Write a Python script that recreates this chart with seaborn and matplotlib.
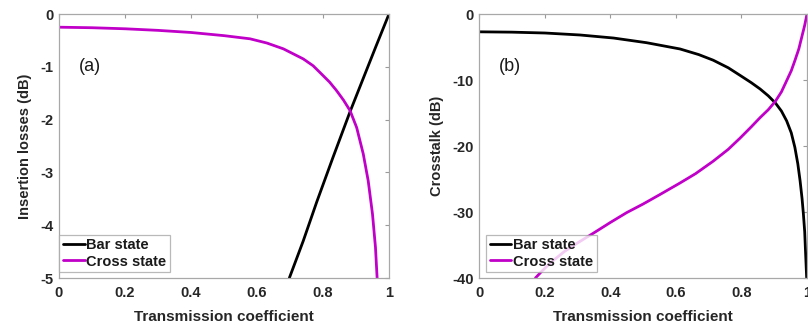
import matplotlib
matplotlib.use("Agg")
import matplotlib.pyplot as plt
import numpy as np
import pandas as pd
import seaborn as sns

# values
il_bar_t = [0.698, 0.74, 0.781, 0.83, 0.882, 0.92, 0.96, 1.0]
il_bar_db = [-5.0, -4.3, -3.56, -2.72, -1.85, -1.25, -0.62, 0.0]

il_cross_t = [0.0, 0.1, 0.2, 0.3, 0.4, 0.5, 0.579, 0.63, 0.68, 0.74,
              0.77, 0.796, 0.82, 0.841, 0.862, 0.882, 0.902, 0.922,
              0.937, 0.95, 0.959, 0.964]
il_cross_db = [-0.25, -0.26, -0.28, -0.31, -0.35, -0.41, -0.47, -0.55,
               -0.66, -0.85, -0.98, -1.14, -1.29, -1.45, -1.63, -1.83,
               -2.15, -2.65, -3.16, -3.79, -4.42, -5.0]

xt_bar_t = [0.0, 0.1, 0.201, 0.308, 0.41, 0.511, 0.613, 0.67, 0.714,
            0.76, 0.796, 0.83, 0.857, 0.882, 0.904, 0.922, 0.938, 0.952,
            0.963, 0.972, 0.979, 0.985, 0.989, 0.993, 0.995, 0.999]
xt_bar_db = [-2.7, -2.75, -2.88, -3.18, -3.64, -4.35, -5.3, -6.15, -7.0,
             -8.15, -9.3, -10.4, -11.36, -12.4, -13.5, -14.7, -16.2,
             -18.0, -20.2, -22.7, -25.3, -28.0, -30.3, -33.0, -35.4, -40.0]

xt_cross_t = [0.172, 0.191, 0.22, 0.26, 0.3, 0.349, 0.4, 0.45, 0.5, 0.55,
              0.613, 0.66, 0.714, 0.76, 0.796, 0.83, 0.857, 0.882, 0.904,
              0.922, 0.938, 0.952, 0.963, 0.975, 0.984, 0.993, 1.0]
xt_cross_db = [-40.0, -39.0, -37.6, -36.0, -34.7, -33.2, -31.6, -30.1,
               -28.8, -27.4, -25.6, -24.2, -22.3, -20.5, -18.8, -17.1,
               -15.7, -14.5, -13.2, -11.8, -10.1, -8.6, -7.07, -5.3,
               -3.5, -1.7, 0.0]

states = ["Bar state", "Cross state"]
colors = {"Bar state": "black", "Cross state": "#c000c8"}
x_ticks = [0, 0.2, 0.4, 0.6, 0.8, 1]
x_tick_labels = ["0", "0.2", "0.4", "0.6", "0.8", "1"]


def make_frame(t_bar, db_bar, t_cross, db_cross):
    bar = pd.DataFrame({"t": t_bar, "db": db_bar, "state": states[0]})
    cross = pd.DataFrame({"t": t_cross, "db": db_cross, "state": states[1]})
    return pd.concat([bar, cross], ignore_index=True)


def style_axes(ax, ylabel, yticks, ylim, tag, legend_x):
    ax.set_xlim(0, 1)
    ax.set_ylim(*ylim)
    ax.set_xticks(x_ticks)
    ax.set_xticklabels(x_tick_labels)
    ax.set_yticks(yticks)
    ax.set_yticklabels([str(v) for v in yticks])
    ax.set_xlabel("Transmission coefficient", fontsize=11,
                  fontweight="bold", color="#262626", labelpad=7)
    ax.set_ylabel(ylabel, fontsize=10.5, fontweight="bold",
                  color="#262626", labelpad=6)
    ax.tick_params(direction="in", top=True, right=True, length=3,
                   width=0.8, color="#9a9a9a", labelsize=10.5,
                   labelcolor="#262626")
    ax.tick_params(axis="x", pad=6)
    ax.tick_params(axis="y", pad=4)
    for lab in ax.get_xticklabels() + ax.get_yticklabels():
        lab.set_fontweight("bold")
    for sp in ax.spines.values():
        sp.set_color("#a8a8a8")
        sp.set_linewidth(0.9)
    ax.text(0.06, 0.80, tag, transform=ax.transAxes, fontsize=13,
            color="#1a1a1a", va="center", ha="left")
    leg = ax.legend(loc="lower left", bbox_to_anchor=(legend_x, 0.022),
                    borderaxespad=0, frameon=True, fancybox=False,
                    handlelength=1.5, handletextpad=0.1, borderpad=0.25,
                    labelspacing=0.15, prop={"weight": "bold", "size": 10.5})
    leg.get_frame().set_edgecolor("#a8a8a8")
    leg.get_frame().set_linewidth(0.9)
    for txt in leg.get_texts():
        txt.set_color("#1a1a1a")


sns.set_theme(style="white")
plt.rcParams["font.family"] = ["Liberation Sans", "DejaVu Sans"]

fig = plt.figure(figsize=(8.08, 3.29), dpi=100)
ax1 = fig.add_axes([59 / 808, 51 / 329, 330 / 808, 264 / 329])
ax2 = fig.add_axes([479 / 808, 51 / 329, 328 / 808, 264 / 329])

df_il = make_frame(il_bar_t, il_bar_db, il_cross_t, il_cross_db)
df_xt = make_frame(xt_bar_t, xt_bar_db, xt_cross_t, xt_cross_db)

sns.lineplot(data=df_il, x="t", y="db", hue="state", palette=colors,
             estimator=None, linewidth=2, ax=ax1)
sns.lineplot(data=df_xt, x="t", y="db", hue="state", palette=colors,
             estimator=None, linewidth=2, ax=ax2)

style_axes(ax1, "Insertion losses (dB)", [0, -1, -2, -3, -4, -5],
           (-5, 0), "(a)", 0.0)
style_axes(ax2, "Crosstalk (dB)", [0, -10, -20, -30, -40],
           (-40, 0), "(b)", 0.021)

fig.savefig("out.png", dpi=100)
